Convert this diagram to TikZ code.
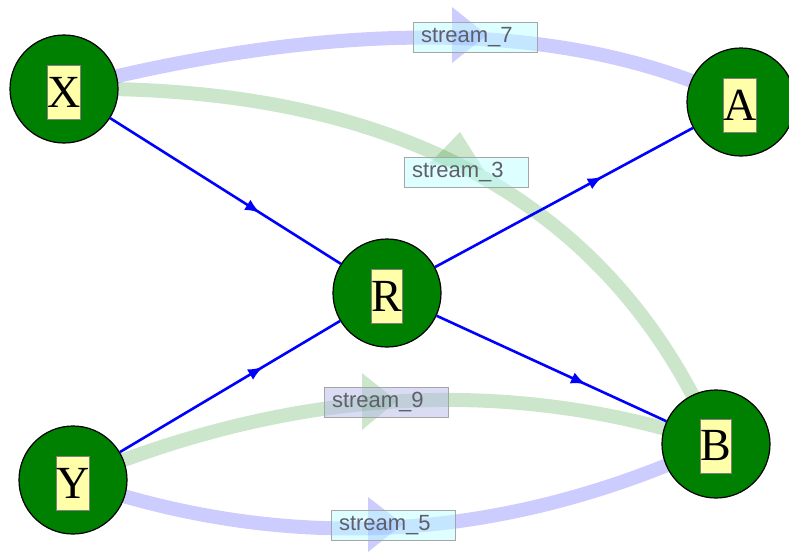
\documentclass[tikz,border=0pt]{standalone}
\usepackage{fontspec}
\setmainfont{Liberation Serif}
\newfontfamily\streamfont{Liberation Sans}
\usetikzlibrary{arrows.meta,decorations.markings,backgrounds}
\definecolor{nodegreen}{RGB}{0,128,0}
\definecolor{letterbox}{RGB}{255,255,170}
\definecolor{tagfill}{RGB}{190,255,255}
\definecolor{tagfillb}{RGB}{180,185,230}
\definecolor{tagtext}{RGB}{95,95,105}
\tikzset{
  vertex/.style={circle, draw=black, line width=1.2pt, fill=nodegreen, minimum size=108pt, inner sep=0pt},
  letter/.style={draw=gray, line width=0.6pt, fill=letterbox, minimum width=29pt, minimum height=54pt, inner sep=0pt, font=\fontsize{46}{50}\selectfont},
  link/.style={draw=blue, line width=2.6pt, postaction={decorate},
    decoration={markings, mark=at position 0.65 with {\arrow{Latex[length=15pt,width=12pt]}}}},
  bluestream/.style={draw=blue, draw opacity=0.2, line width=14pt},
  greenstream/.style={draw=nodegreen, draw opacity=0.2, line width=14pt},
  tag/.style={draw=gray!70, line width=1pt, fill=tagfill, fill opacity=0.5, text opacity=1, text=tagtext,
    text width=108pt, inner xsep=8pt, inner ysep=2pt, minimum height=30pt, align=left,
    font=\streamfont\fontsize{22}{24}\selectfont}
}
\begin{document}
\begin{tikzpicture}[x=1pt,y=-1pt]
\useasboundingbox (0,0) rectangle (789,554);
% nodes
\node[vertex] (X) at (64,89) {};
\node[vertex] (A) at (741,102) {};
\node[vertex] (R) at (387,293) {};
\node[vertex] (Y) at (73,480) {};
\node[vertex] (B) at (716,444) {};
\node[letter] (Xl) at (64,92) {X};
\node[letter] (Al) at (740,105) {A};
\node[letter] (Rl) at (387,296) {R};
\node[letter] (Yl) at (73,483) {Y};
\node[letter] (Bl) at (716,446) {B};
% flows through R
\draw[link] (X) -- (R);
\draw[link] (Y) -- (R);
\draw[link] (R) -- (A);
\draw[link] (R) -- (B);
% streams
\begin{scope}[on background layer]
  \draw[bluestream] (X.center) .. controls (348,16) and (574,21) .. (A.center);
  \draw[greenstream] (X.center) .. controls (395,83) and (612,201) .. (B.center);
  \draw[greenstream] (Y.center) .. controls (294,387) and (509,375) .. (B.center);
  \draw[bluestream] (Y.center) .. controls (288,555) and (502,543) .. (B.center);
  \fill[blue, fill opacity=0.2] (452,7) -- (487,35) -- (452,63) -- cycle;
  \fill[nodegreen, fill opacity=0.2] (429,164) -- (460,132) -- (484,170) -- cycle;
  \fill[nodegreen, fill opacity=0.2] (362,373) -- (397,401) -- (362,430) -- cycle;
  \fill[blue, fill opacity=0.2] (368,497) -- (403,524) -- (368,552) -- cycle;
\end{scope}
\node[tag] (s7) at (475,37) {stream\_7};
\node[tag] (s3) at (466,172) {stream\_3};
\node[tag, fill=tagfillb] (s9) at (386,402) {stream\_9};
\node[tag] (s5) at (393,525) {stream\_5};
\end{tikzpicture}
\end{document}
